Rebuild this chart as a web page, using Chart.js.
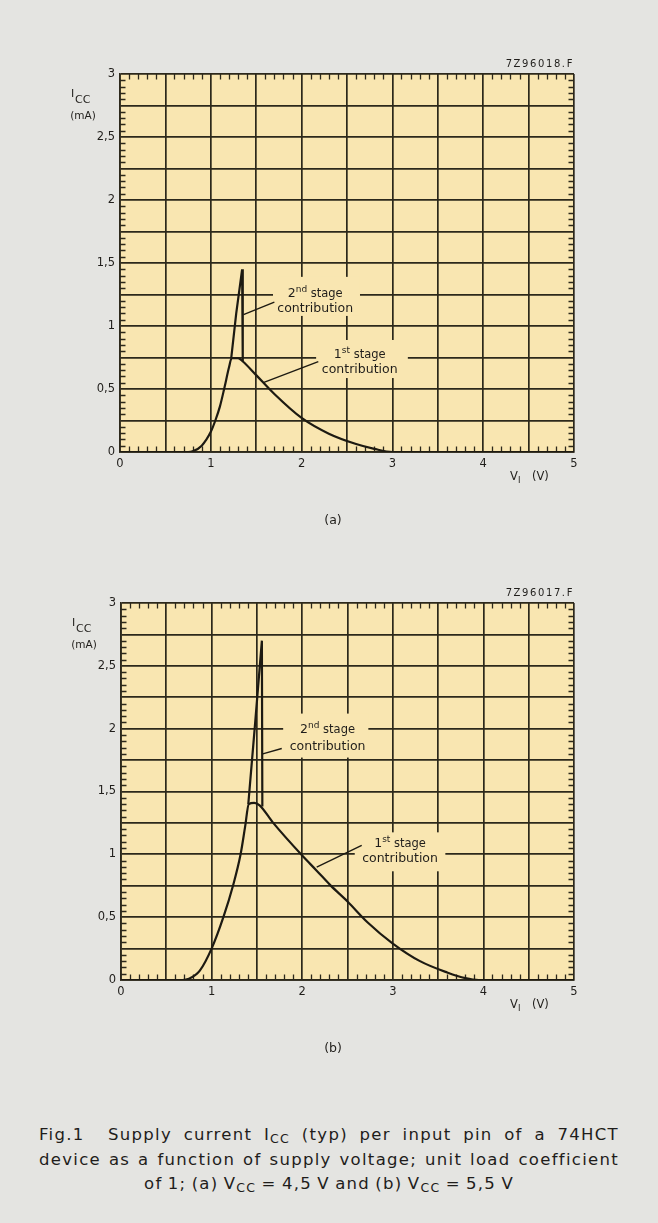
<!DOCTYPE html>
<html>
<head>
<meta charset="utf-8">
<script src="https://cdn.jsdelivr.net/npm/chart.js@4.4.1/dist/chart.umd.min.js"></script>
<style>
  html, body { margin: 0; padding: 0; background: #e4e4e1; }
  body { width: 658px; height: 1223px; position: relative; overflow: hidden; }
  canvas { position: absolute; left: 0; }
  #chartA { top: 0; }
  #chartB { top: 530px; }
  #caption {
    position: absolute; left: 0; top: 1123px; width: 658px;
    text-align: center; color: #1f1d1b;
    font-family: "DejaVu Sans", "Liberation Sans", sans-serif;
    font-size: 16.5px; line-height: 24.5px; letter-spacing: 1.3px;
  }
  #caption span.ln { display: inline-block; white-space: nowrap; }
  #caption sub { font-size: 12.5px; vertical-align: -3px; line-height: 0; }
</style>
</head>
<body>
<canvas id="chartA" width="658" height="540"></canvas>
<canvas id="chartB" width="658" height="540"></canvas>
<div id="caption">
  <span class="ln" data-w="580">Fig.1&nbsp;&nbsp;Supply current I<sub>CC</sub> (typ) per input pin of a 74HCT</span><br>
  <span class="ln" data-w="580">device as a function of supply voltage; unit load coefficient</span><br>
  <span class="ln" data-w="370">of 1; (a) V<sub>CC</sub> = 4,5 V and (b) V<sub>CC</sub> = 5,5 V</span>
</div>
<script>
const INK = '#1d1a12';
const GRID = '#2c281b';
const TEXT = '#201e1b';
const PLOT_FILL = '#f9e6b1';
const FONT = '"DejaVu Sans", "Liberation Sans", sans-serif';

// Tick labels
const xTickLabels = ['0', '1', '2', '3', '4', '5'];
const yTickLabels = ['0', '0,5', '1', '1,5', '2', '2,5', '3'];

// (a) VCC = 4,5 V : input voltage (V) and supply current (mA)
const voltsA1 = [0, 0.75, 0.8, 0.9, 1.0, 1.05, 1.1, 1.15, 1.2, 1.23, 1.3, 1.35, 1.5, 1.7, 2.0, 2.3, 2.6, 2.8, 3.0, 5.0];
const iccA1   = [0, 0, 0.005, 0.05, 0.16, 0.25, 0.36, 0.51, 0.67, 0.745, 0.745, 0.72, 0.61, 0.46, 0.27, 0.145, 0.063, 0.025, 0, 0];
const voltsA2 = [1.225, 1.28, 1.345, 1.352];
const iccA2   = [0.745, 1.1, 1.45, 0.72];

// (b) VCC = 5,5 V
const voltsB1 = [0, 0.68, 0.75, 0.87, 1.0, 1.13, 1.24, 1.32, 1.37, 1.41, 1.47, 1.53, 1.68, 2.0, 2.16, 2.31, 2.5, 2.72, 3.0, 3.3, 3.6, 3.8, 3.95, 5.0];
const iccB1   = [0, 0, 0.01, 0.075, 0.25, 0.5, 0.76, 1.0, 1.22, 1.40, 1.41, 1.39, 1.25, 0.99, 0.87, 0.755, 0.625, 0.46, 0.29, 0.15, 0.06, 0.015, 0, 0];
const voltsB2 = [1.405, 1.48, 1.555, 1.56];
const iccB2   = [1.40, 2.04, 2.70, 1.38];

// Callout notes, anchored in data units (V, mA)
function stageRuns(n, sup) {
  return [{ t: n, size: 12.5 }, { t: sup, size: 9, rise: 5 }, { t: ' stage', size: 11.5 }];
}
const notesA = [
  { box: [1.685, 1.39, 2.643, 1.08], at: 2.15,
    lines: [{ i: 1.23, runs: stageRuns('2', 'nd') }, { i: 1.11, runs: [{ t: 'contribution', size: 12.5 }] }],
    leader: [1.36, 1.09, 1.70, 1.19] },
  { box: [2.16, 0.889, 3.17, 0.587], at: 2.64,
    lines: [{ i: 0.746, runs: stageRuns('1', 'st') }, { i: 0.627, runs: [{ t: 'contribution', size: 12.5 }] }],
    leader: [1.578, 0.55, 2.184, 0.717] }
];
const notesB = [
  { box: [1.79, 2.12, 2.73, 1.77], at: 2.28,
    lines: [{ i: 1.964, runs: stageRuns('2', 'nd') }, { i: 1.829, runs: [{ t: 'contribution', size: 12.5 }] }],
    leader: [1.565, 1.80, 1.774, 1.842] },
  { box: [2.58, 1.175, 3.58, 0.865], at: 3.08,
    lines: [{ i: 1.056, runs: stageRuns('1', 'st') }, { i: 0.936, runs: [{ t: 'contribution', size: 12.5 }] }],
    leader: [2.16, 0.899, 2.657, 1.072] }
];

function drawRuns(ctx, runs, cx, baseline) {
  const widths = runs.map(r => { ctx.font = r.size + 'px ' + FONT; return ctx.measureText(r.t).width; });
  const total = widths.reduce((a, b) => a + b, 0);
  let x = cx - total / 2;
  runs.forEach((r, k) => {
    ctx.font = r.size + 'px ' + FONT;
    ctx.fillText(r.t, x, baseline - (r.rise || 0));
    x += widths[k];
  });
}

const plotDecor = {
  id: 'plotDecor',
  beforeDraw(chart, args, opts) {
    const { ctx, chartArea: a } = chart;
    ctx.save();
    ctx.fillStyle = PLOT_FILL;
    ctx.fillRect(a.left, a.top, a.right - a.left, a.bottom - a.top);
    ctx.restore();
  },
  beforeDatasetsDraw(chart, args, opts) {
    const { ctx, chartArea: a } = chart;
    const xs = chart.scales.x, ys = chart.scales.y;
    ctx.save();
    // inward minor ticks along the frame
    ctx.strokeStyle = GRID;
    ctx.lineWidth = 1.3;
    ctx.beginPath();
    for (let k = 1; k < 50; k++) {
      if (k % 5 === 0) continue;
      const px = Math.round(xs.getPixelForValue(k / 10)) + 0.5;
      ctx.moveTo(px, a.top); ctx.lineTo(px, a.top + 5.5);
      ctx.moveTo(px, a.bottom); ctx.lineTo(px, a.bottom - 5.5);
    }
    for (let k = 1; k < 60; k++) {
      if (k % 5 === 0) continue;
      const py = Math.round(ys.getPixelForValue(k / 20)) + 0.5;
      ctx.moveTo(a.left, py); ctx.lineTo(a.left + 5.5, py);
      ctx.moveTo(a.right, py); ctx.lineTo(a.right - 5.5, py);
    }
    ctx.stroke();

    // callouts
    opts.notes.forEach(n => {
      const x0 = xs.getPixelForValue(n.box[0]), y0 = ys.getPixelForValue(n.box[1]);
      const x1 = xs.getPixelForValue(n.box[2]), y1 = ys.getPixelForValue(n.box[3]);
      ctx.fillStyle = PLOT_FILL;
      ctx.fillRect(x0, y0, x1 - x0, y1 - y0);
      ctx.fillStyle = TEXT;
      ctx.textAlign = 'left';
      ctx.textBaseline = 'alphabetic';
      n.lines.forEach(l => drawRuns(ctx, l.runs, xs.getPixelForValue(n.at), ys.getPixelForValue(l.i)));
      ctx.strokeStyle = INK;
      ctx.lineWidth = 1.4;
      ctx.beginPath();
      ctx.moveTo(xs.getPixelForValue(n.leader[0]), ys.getPixelForValue(n.leader[1]));
      ctx.lineTo(xs.getPixelForValue(n.leader[2]), ys.getPixelForValue(n.leader[3]));
      ctx.stroke();
    });

    // axis titles
    ctx.fillStyle = TEXT;
    ctx.textBaseline = 'alphabetic';
    ctx.textAlign = 'left';
    ctx.font = '11px ' + FONT;
    ctx.fillText('I', a.left - 49, a.top + 23);
    ctx.font = '11px ' + FONT;
    ctx.fillText('CC', a.left - 45, a.top + 29);
    ctx.textAlign = 'center';
    ctx.font = '10.5px ' + FONT;
    ctx.fillText('(mA)', a.left - 37, a.top + 45);

    ctx.textAlign = 'left';
    ctx.font = '11.5px ' + FONT;
    ctx.fillText('V', a.right - 64, a.bottom + 28);
    ctx.font = '8.5px ' + FONT;
    ctx.fillText('I', a.right - 56, a.bottom + 31);
    ctx.font = '11.5px ' + FONT;
    ctx.fillText('(V)', a.right - 42, a.bottom + 28);

    // drawing code, top right
    ctx.textAlign = 'right';
    ctx.font = '10px ' + FONT;
    ctx.letterSpacing = '1.6px';
    ctx.fillText(opts.code, a.right, a.top - 7);
    ctx.letterSpacing = '0px';

    // panel letter
    ctx.textAlign = 'center';
    ctx.font = '12.5px ' + FONT;
    ctx.fillText(opts.panel, 333, a.bottom + 72);
    ctx.restore();
  }
};

function pts(vs, is) { return vs.map((v, k) => ({ x: v, y: is[k] })); }

function makeChart(id, frame, v1, i1, v2, i2, notes, code, panel) {
  const H = 540;
  return new Chart(document.getElementById(id), {
    type: 'scatter',
    data: {
      datasets: [
        { label: '1st stage', data: pts(v1, i1), showLine: true, borderColor: INK, borderWidth: 2.2,
          pointRadius: 0, cubicInterpolationMode: 'monotone' },
        { label: '2nd stage', data: pts(v2, i2), showLine: true, borderColor: INK, borderWidth: 2.2,
          pointRadius: 0, tension: 0 }
      ]
    },
    options: {
      responsive: false,
      animation: false,
      events: [],
      layout: { padding: { left: 0, right: 658 - frame.right, top: frame.top, bottom: H - frame.bottom - 20 } },
      plugins: {
        legend: { display: false },
        tooltip: { enabled: false },
        plotDecor: { notes: notes, code: code, panel: panel }
      },
      scales: {
        x: {
          type: 'linear', min: 0, max: 5,
          afterFit: s => { s.height = 20; },
          ticks: {
            stepSize: 0.5, autoSkip: false, maxRotation: 0, padding: 5, color: TEXT,
            font: { family: FONT, size: 11.5 },
            callback: v => (Math.abs(v - Math.round(v)) < 1e-6 ? xTickLabels[Math.round(v)] : '')
          },
          grid: { color: GRID, lineWidth: 1.7, drawTicks: false },
          border: { color: GRID, width: 1.7 }
        },
        y: {
          type: 'linear', min: 0, max: 3,
          afterFit: s => { s.width = frame.left; },
          ticks: {
            stepSize: 0.25, autoSkip: false, padding: 5, color: TEXT,
            font: { family: FONT, size: 11.5 },
            callback: v => { const k = Math.round(v * 2); return Math.abs(v * 2 - k) < 1e-6 ? yTickLabels[k] : ''; }
          },
          grid: { color: GRID, lineWidth: 1.7, drawTicks: false },
          border: { color: GRID, width: 1.7 }
        }
      }
    },
    plugins: [plotDecor]
  });
}

makeChart('chartA', { left: 120, right: 574, top: 74, bottom: 452 }, voltsA1, iccA1, voltsA2, iccA2, notesA, '7Z96018.F', '(a)');
makeChart('chartB', { left: 121, right: 574, top: 73, bottom: 450 }, voltsB1, iccB1, voltsB2, iccB2, notesB, '7Z96017.F', '(b)');

// widen the word gaps of each caption line to its set width
document.querySelectorAll('#caption span.ln').forEach(el => {
  const target = parseFloat(el.dataset.w);
  const w = el.getBoundingClientRect().width;
  const gaps = (el.textContent.match(/[ \u00a0]/g) || []).length;
  if (gaps) el.style.wordSpacing = ((target - w) / gaps).toFixed(2) + 'px';
});
</script>
</body>
</html>
